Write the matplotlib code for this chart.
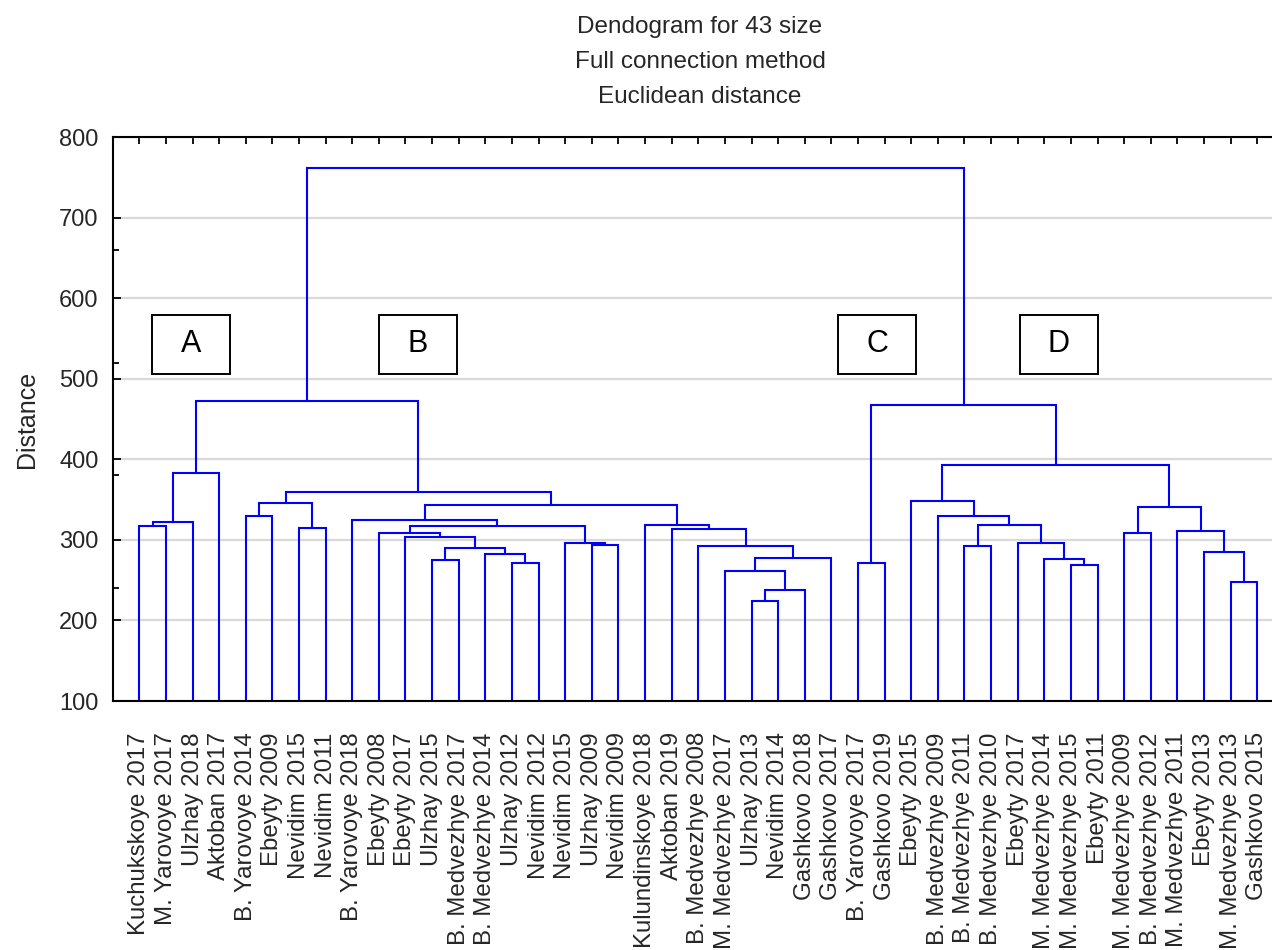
import matplotlib
matplotlib.use('Agg')
import matplotlib.pyplot as plt
from matplotlib.patches import Rectangle

plt.rcParams['font.family'] = ['Liberation Sans', 'DejaVu Sans']

# ---------------- data ----------------
labels = [
    "Kuchukskoye 2017", "M. Yarovoye 2017", "Ulzhay 2018", "Aktoban 2017",
    "B. Yarovoye 2014", "Ebeyty 2009", "Nevidim 2015", "Nevidim 2011",
    "B. Yarovoye 2018", "Ebeyty 2008", "Ebeyty 2017", "Ulzhay 2015",
    "B. Medvezhye 2017", "B. Medvezhye 2014", "Ulzhay 2012", "Nevidim 2012",
    "Nevidim 2015", "Ulzhay 2009", "Nevidim 2009", "Kulundinskoye 2018",
    "Aktoban 2019", "B. Medvezhye 2008", "M. Medvezhye 2017", "Ulzhay 2013",
    "Nevidim 2014", "Gashkovo 2018", "Gashkovo 2017", "B. Yarovoye 2017",
    "Gashkovo 2019", "Ebeyty 2015", "B. Medvezhye 2009", "B. Medvezhye 2011",
    "B. Medvezhye 2010", "Ebeyty 2017", "M. Medvezhye 2014", "M. Medvezhye 2015",
    "Ebeyty 2011", "M. Medvezhye 2009", "B. Medvezhye 2012", "M. Medvezhye 2011",
    "Ebeyty 2013", "M. Medvezhye 2013", "Gashkovo 2015",
]

# linkage: node ids 0..42 are leaves, each merge k creates node 43+k
link_a = [0, 43, 44,
          4, 6, 46,
          11, 14, 13, 49, 10, 9, 17, 16, 54, 8,
          23, 59, 22, 61, 21, 20, 19, 58, 48, 45,
          27,
          31, 35, 34, 33, 70, 30, 29, 37, 41, 40, 39, 77, 76, 69,
          68]
link_b = [1, 2, 3,
          5, 7, 47,
          12, 15, 50, 51, 52, 53, 18, 55, 56, 57,
          24, 25, 60, 26, 62, 63, 64, 65, 66, 67,
          28,
          32, 36, 71, 72, 73, 74, 75, 38, 42, 78, 79, 80, 81, 82,
          83]
link_height = [316.7, 322.0, 382.6,
               330.0, 314.4, 345.5,
               275.0, 271.8, 282.3, 290.1, 303.0, 308.4, 293.8, 295.6, 316.7, 324.5,
               223.7, 237.4, 261.2, 277.3, 292.9, 314.0, 319.0, 342.8, 359.7, 472.4,
               271.8,
               292.9, 269.0, 276.4, 295.6, 319.0, 330.0, 348.7, 308.4, 248.0, 285.0,
               311.6, 340.5, 393.2, 467.4,
               761.0]

cluster_names = ["A", "B", "C", "D"]

# ---------------- figure ----------------
W, H = 1272, 950
fig = plt.figure(figsize=(W / 100, H / 100), dpi=100)
ax = fig.add_axes([113.3 / W, 1 - 701.0 / H, (1283.3 - 113.3) / W, (701.0 - 137) / H])

ymin, ymax = 100, 800
text_color = '#262626'
n = len(labels)
xs = [float(i) for i in range(n)]
hs = [float(ymin)] * n
for a, b, h in zip(link_a, link_b, link_height):
    ax.plot([xs[a], xs[a], xs[b], xs[b]], [hs[a], h, h, hs[b]],
            color='#0000ff', lw=1.5, solid_joinstyle='miter', zorder=2)
    xs.append((xs[a] + xs[b]) / 2)
    hs.append(h)

ax.set_xlim(-0.977, n - 1 + 0.977)
ax.set_ylim(ymin, ymax)

ax.set_xticks(range(n))
ax.set_xticklabels(labels, rotation=90, fontsize=17.3, color=text_color)
ax.tick_params(axis='x', direction='in', top=True, bottom=True, length=5,
               width=1.3, pad=22.5, colors='black', labelcolor=text_color)

ax.set_yticks(range(100, 801, 100))
ax.set_yticks([240, 380, 520, 660], minor=True)
ax.tick_params(axis='y', which='major', direction='in', length=6, width=1.3,
               pad=10.5, labelsize=17, labelcolor=text_color)
ax.tick_params(axis='y', which='minor', direction='in', length=4, width=1.3)

ax.yaxis.grid(True, color='#d9d9d9', lw=1.6)
ax.set_axisbelow(True)

for s in ['left', 'top', 'bottom']:
    ax.spines[s].set_linewidth(1.5)
    ax.spines[s].set_color('black')
ax.spines['right'].set_visible(False)

ax.set_ylabel('Distance', fontsize=18, color=text_color)
ax.yaxis.set_label_coords(-0.0639, 0.5)

# cluster boxes
box_x = [1.94, 10.47, 27.72, 34.55]
box_y = 542.5
bw, bh = 2.93, 74.0
for name, cx in zip(cluster_names, box_x):
    ax.add_patch(Rectangle((cx - bw / 2, box_y - bh / 2), bw, bh, fill=True,
                           fc='white', ec='black', lw=1.4, zorder=3))
    ax.text(cx, box_y, name, ha='center', va='center', fontsize=22,
            color='black', zorder=4)

# title
title_lines = ["Dendogram for 43 size", "Full connection method", "Euclidean distance"]
for line, yb in zip(title_lines, [33.3, 68.3, 103.3]):
    fig.text(700 / W, 1 - yb / H, line, ha='center', va='baseline',
             fontsize=17.5, color=text_color)

fig.savefig('out.png', dpi=100)
